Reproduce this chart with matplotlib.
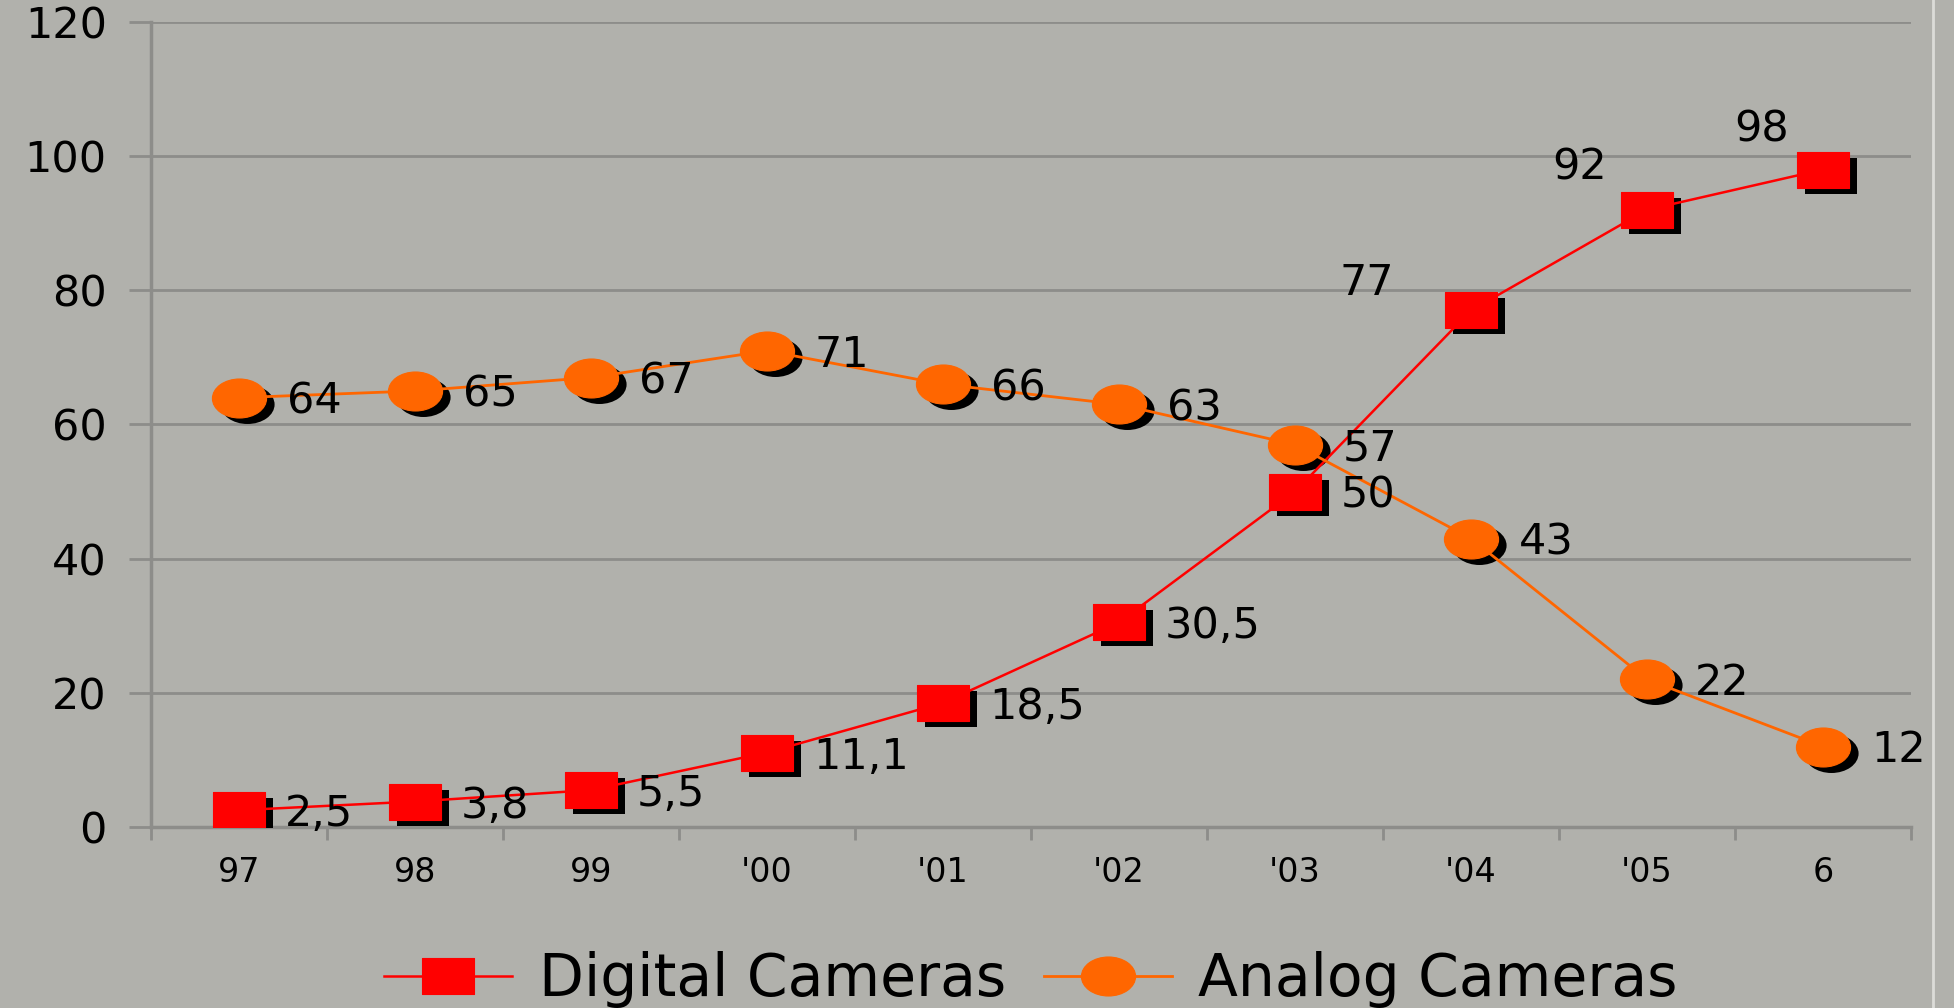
"""Digital vs analog camera sales chart."""

import numpy as np
import matplotlib
matplotlib.use('Agg')
import matplotlib.pyplot as plt
from matplotlib.path import Path
from matplotlib.lines import Line2D
from matplotlib import transforms

# Данные
years = ['97', '98', '99', "'00", "'01", "'02", "'03", "'04", "'05", '6']
digital = [2.5, 3.8, 5.5, 11.1, 18.5, 30.5, 50, 77, 92, 98]
analog = [64, 65, 67, 71, 66, 63, 57, 43, 22, 12]
digital_labels = ['2,5', '3,8', '5,5', '11,1', '18,5', '30,5', '50', '77', '92', '98']
analog_labels = ['64', '65', '67', '71', '66', '63', '57', '43', '22', '12']

BG = '#b1b1ac'
GRID = '#8d8d8a'
RED = '#ff0000'
ORANGE = '#ff6600'

plt.rcParams['font.family'] = ['DejaVu Sans']

# Вытянутые маркеры (исходник растянут по горизонтали)
square = Path([(-1, -0.69), (1, -0.69), (1, 0.69), (-1, 0.69), (-1, -0.69)],
              [Path.MOVETO, Path.LINETO, Path.LINETO, Path.LINETO, Path.CLOSEPOLY])
circ = Path.unit_circle()
ellipse = Path(circ.vertices * np.array([1.0, 0.72]), circ.codes)

fig = plt.figure(figsize=(19.54, 10.08), dpi=100, facecolor=BG)
ax = fig.add_axes([151 / 1954, 1 - 827 / 1008, (1911 - 151) / 1954, (827 - 22) / 1008])
ax.set_facecolor(BG)

x = np.arange(len(years))
shadow = transforms.offset_copy(ax.transData, fig=fig, x=8, y=-6, units='dots')

# Тени маркеров
ax.plot(x, digital, linestyle='none', marker=square, markersize=38,
        color='black', mew=0, transform=shadow, zorder=3)
ax.plot(x, analog, linestyle='none', marker=ellipse, markersize=39,
        color='black', mew=0, transform=shadow, zorder=3)

ax.plot(x, digital, color=RED, lw=1.8, marker=square, markersize=38,
        mfc=RED, mec=RED, mew=0.8, zorder=4, label='Digital Cameras')
ax.plot(x, analog, color=ORANGE, lw=2.0, marker=ellipse, markersize=39,
        mfc=ORANGE, mec=ORANGE, mew=0.8, zorder=5, label='Analog Cameras')

# Подписи значений
special = {7: (-104, 27), 8: (-67, 42), 9: (-61, 40)}
for i, (v, s) in enumerate(zip(digital, digital_labels)):
    if i in special:
        ax.annotate(s, (i, v), xytext=special[i], textcoords='offset pixels',
                    ha='center', va='center', fontsize=31, zorder=6)
    else:
        ax.annotate(s, (i, v), xytext=(46, -4), textcoords='offset pixels',
                    ha='left', va='center', fontsize=31, zorder=6)
for i, (v, s) in enumerate(zip(analog, analog_labels)):
    ax.annotate(s, (i, v), xytext=(48, -4), textcoords='offset pixels',
                ha='left', va='center', fontsize=31, zorder=6)

# Оси
ax.set_xlim(-0.5, len(years) - 0.5)
ax.set_ylim(0, 120)
ax.set_yticks(range(0, 121, 20))
ax.tick_params(axis='y', length=15.8, width=2, color=GRID, pad=16, labelsize=31)
ax.set_xticks(x)
ax.set_xticklabels(years)
ax.set_xticks(np.arange(-0.5, len(years)), minor=True)
ax.tick_params(axis='x', which='major', length=0, pad=21, labelsize=24)
ax.tick_params(axis='x', which='minor', length=9.4, width=2, color=GRID)
ax.grid(axis='y', color=GRID, lw=2, zorder=1)
ax.set_axisbelow(True)
for side in ('top', 'right'):
    ax.spines[side].set_visible(False)
for side in ('left', 'bottom'):
    ax.spines[side].set_color(GRID)
    ax.spines[side].set_linewidth(2.5)

fig.legend(loc='center', bbox_to_anchor=(1031 / 1954, 1 - 980 / 1008),
           ncol=2, frameon=False, fontsize=42, numpoints=1, borderpad=0,
           handlelength=2.2, handletextpad=0.45, columnspacing=0.65)

# Светлая полоса у правого края слайда
fig.add_artist(Line2D([1933 / 1954] * 2, [0, 1], color='#dcdcd8', lw=2))

fig.savefig('out.png', dpi=100, facecolor=BG)
plt.close(fig)
